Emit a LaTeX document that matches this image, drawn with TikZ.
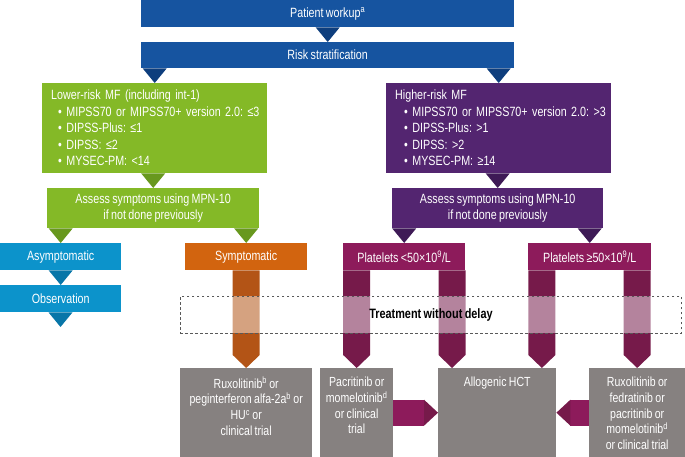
\documentclass[tikz,border=0pt]{standalone}
\usepackage{fontspec}
\setmainfont{Liberation Sans}[FakeStretch=0.8,WordSpace=0.8]
\usetikzlibrary{calc,positioning}
\frenchspacing

\definecolor{wkblue}{RGB}{22,84,160}
\definecolor{wkblued}{RGB}{14,62,125}
\definecolor{lrgreen}{RGB}{132,185,39}
\definecolor{lrgreend}{RGB}{104,152,30}
\definecolor{hrpurple}{RGB}{83,37,112}
\definecolor{hrpurpled}{RGB}{62,26,86}
\definecolor{asblue}{RGB}{12,147,203}
\definecolor{asblued}{RGB}{8,118,168}
\definecolor{syorange}{RGB}{210,100,15}
\definecolor{syoranged}{RGB}{179,84,22}
\definecolor{plmag}{RGB}{141,27,91}
\definecolor{plmagd}{RGB}{118,26,74}
\definecolor{txgray}{RGB}{134,129,128}

% triangle pointer, bar arrow, side arrow
\newcommand{\ptrtri}[3]{\fill[#1] (#2 -| #3) ++(-12,0) -- ++(24,0) -- (#3) -- cycle;}
\newcommand{\dnbar}[3]{\fill[#1] (#2 -| #3) ++(-13.5,0) -- ++(27,0) -- ($(#3)+(13.5,13)$) -- (#3) -- ($(#3)+(-13.5,13)$) -- cycle;}
\newcommand{\sidearr}[3]{\fill[plmag] ($(#1)+(0,-13)$) rectangle ($(#2)+(#3,13)$);
  \fill[plmagd] ($(#2)+(#3,13)$) -- (#2) -- ($(#2)+(#3,-13)$) -- cycle;}

\begin{document}
\begin{tikzpicture}[x=1pt,y=1pt,
  blk/.style={rectangle,inner sep=0pt,anchor=north west,text=white,align=center,
    font=\fontsize{13.4}{16.5}\selectfont},
  gbox/.style={rectangle,inner sep=0pt,anchor=north west,fill=txgray,minimum height=89pt},
  gtxt/.style={inner sep=0pt,anchor=north,text=white,align=center,
    font=\fontsize{13.2}{15.7}\selectfont}]
\useasboundingbox (0,0) rectangle (685,457);

\node[blk,fill=wkblue,minimum width=373pt,minimum height=27pt] (work) at (141,457) {Patient workup\textsuperscript{a}};
\node[blk,fill=wkblue,minimum width=373pt,minimum height=26pt] (risk) at (141,415) {Risk stratification};
\node[blk,fill=lrgreen,minimum width=225pt,minimum height=90pt,text width=207pt,align=left] (low) at (42,374)
  {\mbox{Lower-risk MF (including int-1)}\\
   \mbox{\hspace*{7pt}• MIPSS70 or MIPSS70+ version 2.0: ≤3}\\
   \mbox{\hspace*{7pt}• DIPSS-Plus: ≤1}\\
   \mbox{\hspace*{7pt}• DIPSS: ≤2}\\
   \mbox{\hspace*{7pt}• MYSEC-PM: <14}};
\node[blk,fill=hrpurple,minimum width=225pt,minimum height=90pt,text width=207pt,align=left] (high) at (386,374)
  {\mbox{Higher-risk MF}\\
   \mbox{\hspace*{9pt}• MIPSS70 or MIPSS70+ version 2.0: >3}\\
   \mbox{\hspace*{9pt}• DIPSS-Plus: >1}\\
   \mbox{\hspace*{9pt}• DIPSS: >2}\\
   \mbox{\hspace*{9pt}• MYSEC-PM: ≥14}};
\node[blk,fill=lrgreen,minimum width=212pt,minimum height=40pt] (lassess) at (47,269) {Assess symptoms using MPN-10\\if not done previously};
\node[blk,fill=hrpurple,minimum width=211pt,minimum height=40pt] (hassess) at (392,269) {Assess symptoms using MPN-10\\if not done previously};
\node[blk,fill=asblue,minimum width=121pt,minimum height=27pt] (asym) at (0,214) {Asymptomatic};
\node[blk,fill=asblue,minimum width=121pt,minimum height=27pt] (obs) at (0,172) {Observation};
\node[blk,fill=syorange,minimum width=122pt,minimum height=27pt] (symp) at (185,214) {Symptomatic};
\node[blk,fill=plmag,minimum width=122pt,minimum height=27pt] (plow) at (343,214) {Platelets <50×10\textsuperscript{9}/L};
\node[blk,fill=plmag,minimum width=123pt,minimum height=27pt] (phigh) at (528,214) {Platelets ≥50×10\textsuperscript{9}/L};

\node[gbox,minimum width=132pt] (rux) at (180,89) {};
\node[gbox,minimum width=73pt] (pacri) at (320,89) {};
\node[gbox,minimum width=118pt] (hct) at (438,89) {};
\node[gbox,minimum width=96pt] (jak) at (589,89) {};
\node[gtxt] (rux-t) at ($(rux.north)+(0,-9)$) {Ruxolitinib\textsuperscript{b} or\\peginterferon alfa-2a\textsuperscript{b} or\\HU\textsuperscript{c} or\\clinical trial};
\node[gtxt] (pacri-t) at ($(pacri.north)+(0,-9)$) {Pacritinib or\\momelotinib\textsuperscript{d}\\or clinical\\trial};
\node[gtxt] (hct-t) at ($(hct.north)+(0,-9)$) {Allogenic HCT};
\node[gtxt] (jak-t) at ($(jak.north)+(0,-9)$) {Ruxolitinib or\\fedratinib or\\pacritinib or\\momelotinib\textsuperscript{d}\\or clinical trial};

\coordinate (obsend) at (60.5,130);
\coordinate (hctl) at ($(hct.north west)+(14,0)$);
\coordinate (hctr) at ($(hct.north east)+(-14.5,0)$);

\ptrtri{wkblued}{work.south}{risk.north}
\ptrtri{wkblued}{risk.south}{low.north}
\ptrtri{wkblued}{risk.south}{high.north}
\ptrtri{lrgreend}{low.south}{lassess.north}
\ptrtri{hrpurpled}{high.south}{hassess.north}
\ptrtri{lrgreend}{lassess.south}{asym.north}
\ptrtri{lrgreend}{lassess.south}{symp.north}
\ptrtri{hrpurpled}{hassess.south}{plow.north}
\ptrtri{hrpurpled}{hassess.south}{phigh.north}
\ptrtri{asblued}{asym.south}{obs.north}
\ptrtri{asblued}{obs.south}{obsend}

\dnbar{syoranged}{symp.south}{rux.north}
\dnbar{plmagd}{plow.south}{pacri.north}
\dnbar{plmagd}{plow.south}{hctl}
\dnbar{plmagd}{phigh.south}{hctr}
\dnbar{plmagd}{phigh.south}{jak.north}

\sidearr{pacri.east}{hct.west}{-14}
\sidearr{jak.west}{hct.east}{14}

\node[draw=black!65,dash pattern=on 2.5pt off 2.5pt,line width=0.9pt,fill=white,fill opacity=0.46,
  text opacity=1,inner sep=0pt,minimum width=501pt,minimum height=37pt,anchor=north west,
  font=\bfseries\fontsize{13.6}{14}\selectfont] (delay) at (180,161) {Treatment without delay};
\end{tikzpicture}
\end{document}
